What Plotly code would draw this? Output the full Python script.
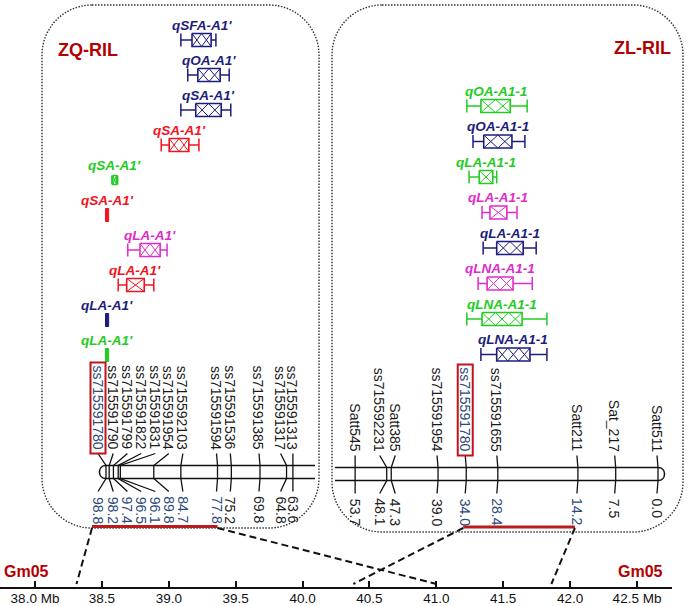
import plotly.graph_objects as go

W, H = 688, 606
FONT = "Arial, Liberation Sans, sans-serif"

# ---- physical map (Gm05, Mb) ----
MB_TICKS = [38.0, 38.5, 39.0, 39.5, 40.0, 40.5, 41.0, 41.5, 42.0, 42.5]
MB_TICKTEXT = ["38.0 Mb", "38.5", "39.0", "39.5", "40.0", "40.5", "41.0", "41.5", "42.0", "42.5 Mb"]

# ---- ZQ-RIL linkage group ----
ZQ_MARKERS = ["ss715591780", "ss715591790", "ss715591799", "ss715591822", "ss715591831",
              "ss715591954", "ss715592103", "ss715591594", "ss715591536", "ss715591385",
              "ss715591317", "ss715591313"]
ZQ_CM = [98.8, 98.2, 97.4, 96.5, 96.1, 89.8, 84.7, 77.8, 75.2, 69.8, 64.8, 63.6]

ZQ_QTL = ["qSFA-A1'", "qOA-A1'", "qSA-A1'", "qSA-A1'", "qSA-A1'",
          "qSA-A1'", "qLA-A1'", "qLA-A1'", "qLA-A1'", "qLA-A1'"]
ZQ_QTL_ENV = ["navy", "navy", "navy", "red", "green", "red", "magenta", "red", "navy", "green"]
ZQ_CI_L = [84.7, 83.4, 84.7, 88.4, 97.7, 98.9, 94.7, 96.5, 98.9, 98.9]
ZQ_CI_R = [78.1, 75.6, 75.3, 81.3, 96.6, 98.3, 87.3, 89.8, 98.3, 98.3]
ZQ_BOX_L = [82.6, 81.5, 81.9, 86.9, 97.5, 98.9, 92.4, 94.9, 98.9, 98.9]
ZQ_BOX_R = [79.0, 77.3, 77.1, 83.2, 96.8, 98.3, 88.6, 91.6, 98.3, 98.3]

# ---- ZL-RIL linkage group ----
ZL_MARKERS = ["Satt545", "ss715592231", "Satt385", "ss715591954", "ss715591780",
              "ss715591655", "Satt211", "Sat_217", "Satt511"]
ZL_CM = [53.7, 48.1, 47.3, 39.0, 34.0, 28.4, 14.2, 7.5, 0.0]

ZL_QTL = ["qOA-A1-1", "qOA-A1-1", "qLA-A1-1", "qLA-A1-1",
          "qLA-A1-1", "qLNA-A1-1", "qLNA-A1-1", "qLNA-A1-1"]
ZL_QTL_ENV = ["green", "navy", "green", "magenta", "navy", "magenta", "green", "navy"]
ZL_CI_L = [33.9, 32.8, 33.5, 31.2, 31.0, 31.9, 33.9, 31.4]
ZL_CI_R = [23.2, 23.6, 28.6, 25.0, 21.6, 22.3, 19.7, 19.7]
ZL_BOX_L = [31.4, 30.9, 31.7, 29.8, 28.6, 30.3, 31.2, 28.6]
ZL_BOX_R = [26.2, 25.9, 29.3, 26.8, 23.9, 25.7, 24.1, 22.7]

# highlighted intervals and where they fall on the physical map
ZQ_SPAN = (98.8, 77.8)
ZL_SPAN = (34.0, 14.2)
ZQ_PHYS = (38.31, 41.0)
ZL_PHYS = (40.38, 41.86)
KEY_MARKER = "ss715591780"

COLORS = {"navy": "#1d1d7c", "red": "#f0141e", "green": "#22cc22", "magenta": "#e02cc8"}
DARKRED = "#b40000"
HILITE = "#2d4a7a"

# ---- scales (pixel layout) ----
MB_X0, MB_PX = 37.7384, 133.78
ZQ_PX0, ZQ_SCALE = 106.0, 5.31      # pixel of 98.8 cM, px per cM
ZL_PX0, ZL_SCALE = 658.0, 5.64      # pixel of 0 cM, px per cM


def mb_px(mb):
    return (mb - MB_X0) * MB_PX


def zq_px(cm):
    return ZQ_PX0 + (ZQ_CM[0] - cm) * ZQ_SCALE


def zl_px(cm):
    return ZL_PX0 - cm * ZL_SCALE


fig = go.Figure()
shapes = []
annotations = []


def rounded_rect(x0, y0, x1, y1, r):
    k = 0.4477 * r
    return (f"M {x0 + r},{y0} L {x1 - r},{y0} C {x1 - k},{y0} {x1},{y0 + k} {x1},{y0 + r} "
            f"L {x1},{y1 - r} C {x1},{y1 - k} {x1 - k},{y1} {x1 - r},{y1} "
            f"L {x0 + r},{y1} C {x0 + k},{y1} {x0},{y1 - k} {x0},{y1 - r} "
            f"L {x0},{y0 + r} C {x0},{y0 + k} {x0 + k},{y0} {x0 + r},{y0} Z")


def add_markers(xa, names, cms, label_off, chrom_top, chrom_bot, span):
    for name, cm, off in zip(names, cms, label_off):
        shapes.append(dict(
            type="path", xref=xa, yref="y", xsizemode="pixel", xanchor=cm,
            path=f"M {off},{chrom_top - 12} L 0,{chrom_top} L 0,{chrom_bot} L {off},{chrom_bot + 13}",
            line=dict(color="#111", width=1.3),
        ))
        key = name == KEY_MARKER
        annotations.append(dict(
            text=name, xref=xa, yref="y", x=cm, xshift=off, y=chrom_top - 14,
            xanchor="center", yanchor="bottom", textangle=90, showarrow=False,
            font=dict(family=FONT, size=14, color=HILITE if key else "#1a1a1a"),
        ))
        lo, hi = min(span), max(span)
        annotations.append(dict(
            text=f"{cm:.1f}", xref=xa, yref="y", x=cm, xshift=off, y=chrom_bot + 16,
            xanchor="center", yanchor="top", textangle=90, showarrow=False,
            font=dict(family=FONT, size=14, color=HILITE if lo <= cm <= hi else "#222"),
        ))
        if key:
            shapes.append(dict(
                type="rect", xref=xa, yref="y", xsizemode="pixel", xanchor=cm,
                x0=off - 7.5, x1=off + 7.5, y0=chrom_top - 103, y1=chrom_top - 12,
                line=dict(color="#c0141c", width=2),
            ))


def add_qtls(xa, names, envs, ci_l, ci_r, box_l, box_r, y0, dy, scale):
    for i, (name, env, cl, cr, bl, br) in enumerate(zip(names, envs, ci_l, ci_r, box_l, box_r)):
        y = y0 + dy * i
        c = COLORS[env]
        w_px = abs(bl - br) * scale
        if bl == cl and br == cr:
            fig.add_trace(go.Scatter(
                x=[cl, cr, cr, cl, cl], y=[y - 6.5, y - 6.5, y + 6.5, y + 6.5, y - 6.5],
                mode="lines", fill="toself", fillcolor=c, line=dict(color=c, width=1),
                xaxis=xa, yaxis="y", hoverinfo="skip", showlegend=False))
        else:
            h = 6.5 if w_px > 8 else 4.5
            fig.add_trace(go.Scatter(
                x=[cl, cr, None, cl, cl, None, cr, cr],
                y=[y, y, None, y - h, y + h, None, y - h, y + h],
                mode="lines", line=dict(color=c, width=1.5),
                xaxis=xa, yaxis="y", hoverinfo="skip", showlegend=False))
            fig.add_trace(go.Scatter(
                x=[bl, br, br, bl, bl], y=[y - h, y - h, y + h, y + h, y - h],
                mode="lines", fill="toself", fillcolor="white", line=dict(color=c, width=1.6),
                xaxis=xa, yaxis="y", hoverinfo="skip", showlegend=False))
            n = max(1, round(w_px / 12))
            edges = [bl + (br - bl) * k / n for k in range(n + 1)]
            xs, ys = [], []
            for k in range(n):
                xs += [edges[k], edges[k + 1], None, edges[k], edges[k + 1], None]
                ys += [y - h, y + h, None, y + h, y - h, None]
            fig.add_trace(go.Scatter(
                x=xs, y=ys, mode="lines", line=dict(color=c, width=1),
                xaxis=xa, yaxis="y", hoverinfo="skip", showlegend=False))
        annotations.append(dict(
            text=name, xref=xa, yref="y", x=(bl + br) / 2, y=y - 15,
            xanchor="center", yanchor="middle", showarrow=False,
            font=dict(family=FONT, size=13.5, color=c, weight="bold", style="italic"),
        ))


# panels
shapes.append(dict(type="path", xref="x4", yref="y", path=rounded_rect(42, 5, 319, 528, 50),
                   line=dict(color="#333", width=1.4, dash="1.5px,1.5px"), layer="below"))
shapes.append(dict(type="path", xref="x4", yref="y", path=rounded_rect(332, 5, 683, 532, 50),
                   line=dict(color="#333", width=1.4, dash="1.5px,1.5px"), layer="below"))

# chromosomes
ZQ_TOP, ZQ_BOT = 465.5, 478.5
ZL_TOP, ZL_BOT = 467.5, 480.5
shapes.append(dict(type="path", xref="x2", yref="y", xsizemode="pixel", xanchor=ZQ_CM[0],
                   path=(f"M 209,{ZQ_TOP} L 0,{ZQ_TOP} C -8.7,{ZQ_TOP} -8.7,{ZQ_BOT} 0,{ZQ_BOT} "
                         f"L 209,{ZQ_BOT}"),
                   line=dict(color="#111", width=1.5)))
shapes.append(dict(type="path", xref="x3", yref="y", xsizemode="pixel", xanchor=ZL_CM[-1],
                   path=(f"M -323,{ZL_TOP} L 0,{ZL_TOP} C 8.7,{ZL_TOP} 8.7,{ZL_BOT} 0,{ZL_BOT} "
                         f"L -323,{ZL_BOT}"),
                   line=dict(color="#111", width=1.5)))

add_markers("x2", ZQ_MARKERS, ZQ_CM, [-8, 4, 14, 23, 35, 15, 2, -1, -1, -1, -6, 0],
            ZQ_TOP, ZQ_BOT, ZQ_SPAN)
add_markers("x3", ZL_MARKERS, ZL_CM, [0, -7, 4, -1, -1, -1, -1, -1, -1],
            ZL_TOP, ZL_BOT, ZL_SPAN)

add_qtls("x2", ZQ_QTL, ZQ_QTL_ENV, ZQ_CI_L, ZQ_CI_R, ZQ_BOX_L, ZQ_BOX_R, 40, 35, ZQ_SCALE)
add_qtls("x3", ZL_QTL, ZL_QTL_ENV, ZL_CI_L, ZL_CI_R, ZL_BOX_L, ZL_BOX_R, 106, 35.5, ZL_SCALE)

# highlighted intervals and links to the physical map
zq_a, zq_b = zq_px(ZQ_SPAN[0]) - 14, zq_px(ZQ_SPAN[1])
zl_a, zl_b = zl_px(ZL_SPAN[0]) - 3, zl_px(ZL_SPAN[1]) - 3
for a, b, y in [(zq_a, zq_b, 526.5), (zl_a, zl_b, 527)]:
    shapes.append(dict(type="line", xref="x4", yref="y", x0=a, x1=b, y0=y, y1=y,
                       line=dict(color="#b81c1c", width=3)))
for top, mb in [(zq_a, ZQ_PHYS[0]), (zq_b, ZQ_PHYS[1]), (zl_a, ZL_PHYS[0]), (zl_b, ZL_PHYS[1])]:
    shapes.append(dict(type="line", xref="x4", yref="y", x0=top, y0=528, x1=mb_px(mb), y1=584,
                       line=dict(color="#111", width=2, dash="7px,4px")))

# physical axis line
shapes.append(dict(type="line", xref="x4", yref="y", x0=0, x1=672, y0=588, y1=588,
                   line=dict(color="#111", width=2)))

# titles
for txt, x, y, size in [("ZQ-RIL", 87.5, 50, 18), ("ZL-RIL", 642.5, 48, 18),
                        ("Gm05", 26.5, 571, 16), ("Gm05", 640.5, 571, 16)]:
    annotations.append(dict(text=txt, xref="x4", yref="y", x=x, y=y, showarrow=False,
                            xanchor="center", yanchor="middle",
                            font=dict(family=FONT, size=size, color=DARKRED, weight="bold")))

hidden = dict(visible=False, showgrid=False, zeroline=False, overlaying="x", anchor="y",
              domain=[0, 1])
fig.update_layout(
    width=W, height=H, autosize=False,
    margin=dict(l=0, r=0, t=0, b=0, pad=0),
    paper_bgcolor="white", plot_bgcolor="white",
    showlegend=False,
    xaxis=dict(range=[MB_X0, MB_X0 + W / MB_PX], domain=[0, 1], anchor="free",
               position=(H - 588) / H, showline=False, showgrid=False, zeroline=False,
               ticks="inside", ticklen=7, tickwidth=1.5, tickcolor="#111",
               tickvals=MB_TICKS, ticktext=MB_TICKTEXT,
               tickfont=dict(family=FONT, size=13.5, color="#111")),
    xaxis2=dict(range=[ZQ_CM[0] + ZQ_PX0 / ZQ_SCALE, ZQ_CM[0] - (W - ZQ_PX0) / ZQ_SCALE], **hidden),
    xaxis3=dict(range=[ZL_PX0 / ZL_SCALE, -(W - ZL_PX0) / ZL_SCALE], **hidden),
    xaxis4=dict(range=[0, W], **hidden),
    yaxis=dict(range=[H, 0], domain=[0, 1], visible=False, showgrid=False, zeroline=False),
    shapes=shapes,
    annotations=annotations,
)
# keep at least one trace on the pixel axes so they exist
fig.add_trace(go.Scatter(x=[None], y=[None], xaxis="x4", yaxis="y", showlegend=False))
fig.add_trace(go.Scatter(x=[None], y=[None], xaxis="x", yaxis="y", showlegend=False))

fig.write_html("out.html", config={"displayModeBar": False},
               post_script="document.body.style.margin='0';")
